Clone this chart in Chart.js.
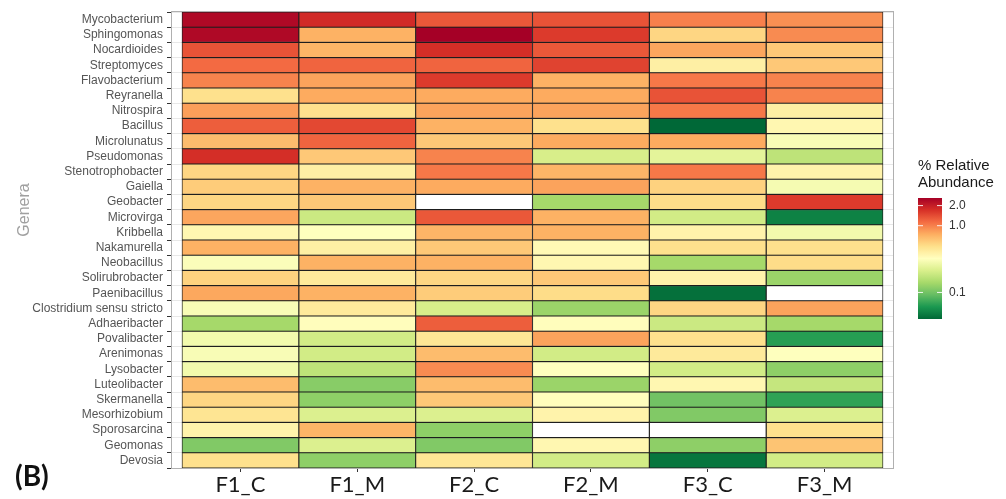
<!DOCTYPE html>
<html>
<head>
<meta charset="utf-8">
<script src="https://cdn.jsdelivr.net/npm/chart.js@4.4.1/dist/chart.umd.min.js"></script>
<style>
  html, body { margin: 0; padding: 0; background: #fff; }
</style>
</head>
<body>
<canvas id="heatmap" width="1006" height="499"></canvas>
<script>
// GENERA (top to bottom)
const genera = [
  "Mycobacterium", "Sphingomonas", "Nocardioides", "Streptomyces", "Flavobacterium",
  "Reyranella", "Nitrospira", "Bacillus", "Microlunatus", "Pseudomonas",
  "Stenotrophobacter", "Gaiella", "Geobacter", "Microvirga", "Kribbella",
  "Nakamurella", "Neobacillus", "Solirubrobacter", "Paenibacillus", "Clostridium sensu stricto",
  "Adhaeribacter", "Povalibacter", "Arenimonas", "Lysobacter", "Luteolibacter",
  "Skermanella", "Mesorhizobium", "Sporosarcina", "Geomonas", "Devosia",
];

const samples = ["F1_C", "F1_M", "F2_C", "F2_M", "F3_C", "F3_M"];

// % RELATIVE ABUNDANCE, same order as genera (null = not detected)
const f1C = [2.4, 2.4, 1.35, 1.15, 0.98, 0.48, 0.82, 1.25, 0.66, 1.75,
             0.53, 0.58, 0.53, 0.78, 0.36, 0.72, 0.31, 0.55, 0.77, 0.3,
             0.14, 0.28, 0.3, 0.28, 0.66, 0.53, 0.46, 0.38, 0.11, 0.48];
const f1M = [1.8, 0.72, 0.7, 1.2, 0.8, 0.76, 0.48, 1.45, 1.2, 0.6,
             0.4, 0.72, 0.6, 0.19, 0.32, 0.4, 0.72, 0.43, 0.72, 0.43,
             0.33, 0.2, 0.2, 0.17, 0.115, 0.12, 0.22, 0.7, 0.22, 0.12];
const f2C = [1.3, 2.6, 1.75, 1.2, 1.6, 0.76, 0.8, 0.72, 0.6, 0.98,
             1.05, 0.76, null, 1.3, 0.7, 0.6, 0.72, 0.53, 0.58, 0.21,
             1.25, 0.45, 0.66, 0.93, 0.66, 0.6, 0.22, 0.12, 0.11, 0.45];
const f2M = [1.35, 1.6, 1.3, 1.5, 0.72, 0.76, 0.8, 0.48, 0.76, 0.21,
             0.7, 0.8, 0.14, 0.72, 0.72, 0.35, 0.36, 0.6, 0.5, 0.13,
             0.33, 0.8, 0.2, 0.32, 0.13, 0.33, 0.38, null, 0.36, 0.2];
const f3C = [1.0, 0.53, 0.78, 0.4, 1.05, 1.35, 1.05, 0.04, 0.76, 0.24,
             1.05, 0.55, 0.5, 0.2, 0.38, 0.48, 0.14, 0.38, 0.043, 0.53,
             0.19, 0.48, 0.43, 0.2, 0.36, 0.1, 0.11, null, 0.12, 0.045];
const f3M = [0.9, 0.93, 0.6, 0.6, 0.98, 0.98, 0.4, 0.36, 0.3, 0.17,
             0.38, 0.29, 1.6, 0.05, 0.28, 0.48, 0.5, 0.13, null, 0.8,
             0.14, 0.065, 0.32, 0.12, 0.18, 0.068, 0.22, 0.48, 0.62, 0.2];

// COLOUR SCALE (log10, low = green, high = red)
const colorLimits = [0.04, 2.6];
const legendTicks = [0.1, 1.0, 2.0];
const legendTickLabels = ["0.1", "1.0", "2.0"];
const palette = ["#006837", "#1a9850", "#66bd63", "#a6d96a", "#d9ef8b", "#ffffbf",
                 "#fee08b", "#fdae61", "#f46d43", "#d73027", "#a50026"];

function hexToRgb(h) {
  return [parseInt(h.slice(1, 3), 16), parseInt(h.slice(3, 5), 16), parseInt(h.slice(5, 7), 16)];
}

function scalePos(v) {
  const lo = Math.log10(colorLimits[0]);
  const hi = Math.log10(colorLimits[1]);
  return Math.min(1, Math.max(0, (Math.log10(v) - lo) / (hi - lo)));
}

function colorAt(t) {
  const p = t * (palette.length - 1);
  const i = Math.min(palette.length - 2, Math.floor(p));
  const f = p - i;
  const a = hexToRgb(palette[i]);
  const b = hexToRgb(palette[i + 1]);
  const c = a.map((x, k) => Math.round(x + (b[k] - x) * f));
  return `rgb(${c[0]},${c[1]},${c[2]})`;
}

function abundanceColor(v) {
  if (v == null) return "#ffffff";
  return colorAt(scalePos(v));
}

const columns = [f1C, f1M, f2C, f2M, f3C, f3M];

const datasets = columns.map((vals, c) => ({
  label: samples[c],
  data: vals.map(() => [c, c + 1]),
  backgroundColor: vals.map(abundanceColor),
  borderColor: "#1e1e1e",
  borderWidth: 0.9,
  borderSkipped: false,
  grouped: false,
  categoryPercentage: 1,
  barPercentage: 1,
}));

// EXTRA DRAWING: panel frame, titles, colour bar
const extras = {
  id: "extras",
  beforeDatasetsDraw(chart) {
    const { ctx, chartArea: a } = chart;
    ctx.save();
    ctx.strokeStyle = "#b0b0b0";
    ctx.lineWidth = 1;
    ctx.strokeRect(a.left + 0.5, a.top - 0.5, a.right - a.left - 1, a.bottom - a.top + 1);
    ctx.restore();
  },
  afterDraw(chart) {
    const { ctx } = chart;
    ctx.save();

    // y axis title
    ctx.translate(25, 210);
    ctx.rotate(-Math.PI / 2);
    ctx.font = "16px 'Liberation Sans'";
    ctx.fillStyle = "#a0a0a0";
    ctx.textAlign = "center";
    ctx.textBaseline = "middle";
    ctx.fillText("Genera", 0, 0);
    ctx.setTransform(1, 0, 0, 1, 0, 0);

    // panel tag
    ctx.font = "bold 28px Lato";
    ctx.fillStyle = "#111";
    ctx.textAlign = "left";
    ctx.textBaseline = "alphabetic";
    ctx.fillText("(B)", 15, 486);

    // legend title
    ctx.font = "15px 'Liberation Sans'";
    ctx.fillStyle = "#1a1a1a";
    ctx.textBaseline = "middle";
    ctx.fillText("% Relative", 918, 166);
    ctx.fillText("Abundance", 918, 183);

    // colour bar
    const bx = 918, bw = 24, top = 198, bottom = 319;
    const grad = ctx.createLinearGradient(0, bottom, 0, top);
    for (let i = 0; i <= 40; i++) grad.addColorStop(i / 40, colorAt(i / 40));
    ctx.fillStyle = grad;
    ctx.fillRect(bx, top, bw, bottom - top);

    ctx.font = "12px 'Liberation Sans'";
    ctx.fillStyle = "#333";
    legendTicks.forEach((v, i) => {
      const y = bottom - scalePos(v) * (bottom - top);
      ctx.strokeStyle = "rgba(255,255,255,0.9)";
      ctx.lineWidth = 1;
      ctx.beginPath();
      ctx.moveTo(bx, y); ctx.lineTo(bx + 5, y);
      ctx.moveTo(bx + bw - 5, y); ctx.lineTo(bx + bw, y);
      ctx.stroke();
      ctx.fillText(legendTickLabels[i], 949, y);
    });

    ctx.restore();
  },
};

const ctx = document.getElementById("heatmap").getContext("2d");

new Chart(ctx, {
  type: "bar",
  data: { labels: genera, datasets: datasets },
  options: {
    indexAxis: "y",
    responsive: false,
    animation: false,
    layout: { padding: { left: 0, right: 112, top: 12, bottom: 0 } },
    plugins: { legend: { display: false }, tooltip: { enabled: false } },
    scales: {
      x: {
        type: "linear",
        min: -0.094,
        max: 6.094,
        afterBuildTicks: (scale) => {
          scale.ticks = samples.map((s, i) => ({ value: i + 0.5 }));
        },
        afterFit: (scale) => { scale.height = 31; },
        ticks: {
          callback: (v) => samples[Math.round(v - 0.5)],
          font: { family: "Lato", size: 22 },
          color: "#1a1a1a",
          padding: 0,
          maxRotation: 0,
          autoSkip: false,
        },
        grid: { drawOnChartArea: false, tickColor: "#333", tickLength: 4 },
        border: { display: false },
      },
      y: {
        type: "category",
        offset: true,
        afterFit: (scale) => { scale.width = 171; },
        ticks: {
          font: { family: "Liberation Sans", size: 12 },
          color: "#555555",
          padding: 4,
          autoSkip: false,
        },
        grid: { color: "#e8e8e8", tickColor: "#333", tickLength: 4 },
        border: { display: false },
      },
    },
  },
  plugins: [extras],
});
</script>
</body>
</html>
